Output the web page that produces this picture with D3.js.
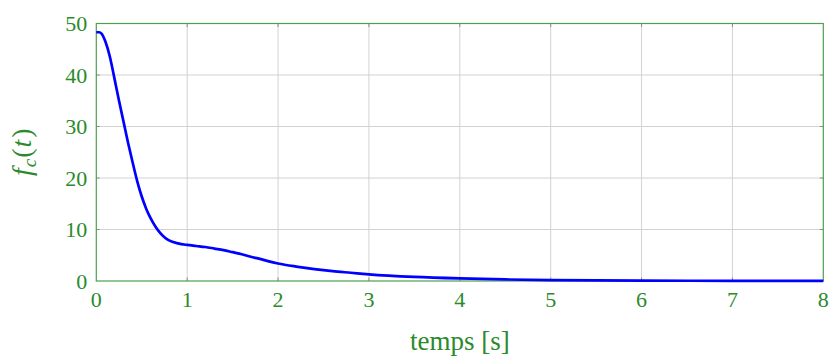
<!DOCTYPE html>
<html>
<head>
<meta charset="utf-8">
<script src="https://cdn.jsdelivr.net/npm/d3@7"></script>
<style>
  html, body { margin: 0; padding: 0; background: #fff; }
  svg text { font-family: "Liberation Serif", "DejaVu Serif", serif; fill: #2b8a2b; }
</style>
</head>
<body>
<svg id="chart" width="829" height="356"></svg>
<script>
// Force response over time
const timeS = [0, 0.03, 0.06, 0.1, 0.15, 0.2, 0.25, 0.3, 0.35, 0.4, 0.45, 0.5, 0.55, 0.6, 0.65,
  0.7, 0.75, 0.8, 0.9, 1.0, 1.1, 1.2, 1.3, 1.4, 1.5, 1.6, 1.7, 1.8, 1.9, 2.0, 2.2, 2.4, 2.6,
  2.8, 3.0, 3.5, 4.0, 4.5, 5.0, 5.5, 6.0, 7.0, 8.0];
const fcValues = [48.3, 48.3, 48.0, 46.5, 43.5, 39.3, 35.0, 30.9, 26.8, 23.0, 19.4, 16.4, 14.0, 12.1, 10.6,
  9.4, 8.5, 7.9, 7.3, 7.0, 6.8, 6.6, 6.3, 6.0, 5.6, 5.2, 4.7, 4.3, 3.8, 3.4, 2.8, 2.3, 1.9,
  1.6, 1.3, 0.8, 0.5, 0.3, 0.18, 0.11, 0.07, 0.03, 0.01];
const xTicks = [0, 1, 2, 3, 4, 5, 6, 7, 8];
const yTicks = [0, 10, 20, 30, 40, 50];

const svg = d3.select("#chart");
const pLeft = 96.3, pRight = 823.3, pTop = 23.5, pBottom = 281;

const x = d3.scaleLinear().domain([0, 8]).range([pLeft, pRight]);
const y = d3.scaleLinear().domain([0, 50]).range([pBottom, pTop]);

// grid
const grid = svg.append("g");
grid.selectAll("line.vx").data(xTicks.slice(1, -1)).join("line")
  .attr("x1", d => x(d)).attr("x2", d => x(d))
  .attr("y1", pTop).attr("y2", pBottom)
  .attr("stroke", "#d2d2d2").attr("stroke-width", 1);
grid.selectAll("line.hy").data(yTicks.slice(1, -1)).join("line")
  .attr("y1", d => y(d)).attr("y2", d => y(d))
  .attr("x1", pLeft).attr("x2", pRight)
  .attr("stroke", "#d2d2d2").attr("stroke-width", 1);

// inner tick marks on all four sides
const tl = 3.5;
const ticks = svg.append("g").attr("stroke", "#8c8c8c").attr("stroke-width", 1);
xTicks.slice(1, -1).forEach(d => {
  ticks.append("line").attr("x1", x(d)).attr("x2", x(d)).attr("y1", pBottom).attr("y2", pBottom - tl);
  ticks.append("line").attr("x1", x(d)).attr("x2", x(d)).attr("y1", pTop).attr("y2", pTop + tl);
});
yTicks.slice(1, -1).forEach(d => {
  ticks.append("line").attr("y1", y(d)).attr("y2", y(d)).attr("x1", pLeft).attr("x2", pLeft + tl);
  ticks.append("line").attr("y1", y(d)).attr("y2", y(d)).attr("x1", pRight).attr("x2", pRight - tl);
});

// frame
svg.append("rect")
  .attr("x", pLeft).attr("y", pTop)
  .attr("width", pRight - pLeft).attr("height", pBottom - pTop)
  .attr("fill", "none").attr("stroke", "#4f9f4f").attr("stroke-width", 1.2);

// curve
const line = d3.line()
  .x((d, i) => x(timeS[i]))
  .y(d => y(d))
  .curve(d3.curveMonotoneX);
svg.append("path")
  .datum(fcValues)
  .attr("d", line)
  .attr("fill", "none")
  .attr("stroke", "#0000ff")
  .attr("stroke-width", 2.7)
  .attr("stroke-linejoin", "round");

// tick labels
svg.append("g").selectAll("text").data(xTicks).join("text")
  .attr("x", d => x(d)).attr("y", pBottom + 26)
  .attr("text-anchor", "middle")
  .attr("font-size", 22)
  .text(d => d);
svg.append("g").selectAll("text").data(yTicks).join("text")
  .attr("x", pLeft - 9).attr("y", d => y(d) + 7.5)
  .attr("text-anchor", "end")
  .attr("font-size", 22)
  .text(d => d);

// axis titles
svg.append("text")
  .attr("x", (pLeft + pRight) / 2).attr("y", 350)
  .attr("text-anchor", "middle")
  .attr("font-size", 27)
  .text("temps [s]");

const yl = svg.append("text")
  .attr("transform", `translate(31, ${(pTop + pBottom) / 2}) rotate(-90)`)
  .attr("text-anchor", "middle")
  .attr("font-size", 28)
  .attr("font-style", "italic");
yl.append("tspan").text("f");
yl.append("tspan").attr("font-size", 19).attr("dy", 5).attr("dx", 1).text("c");
yl.append("tspan").attr("dy", -5).attr("dx", 1).attr("font-style", "normal").text("(");
yl.append("tspan").attr("dx", 1).text("t");
yl.append("tspan").attr("dx", 2).attr("font-style", "normal").text(")");
</script>
</body>
</html>
